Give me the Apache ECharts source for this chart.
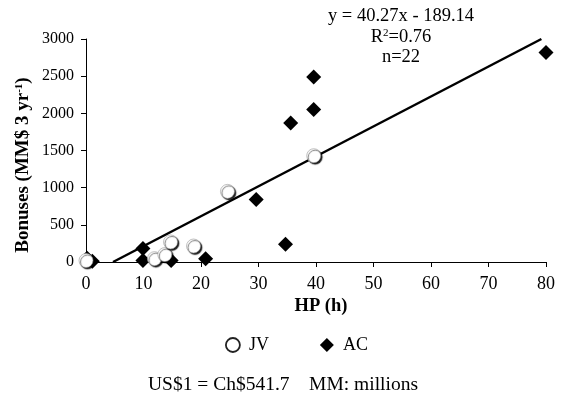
<!DOCTYPE html>
<html><head><meta charset="utf-8">
<script src="https://cdn.jsdelivr.net/npm/echarts@6/dist/echarts.min.js"></script>
<style>html,body{margin:0;padding:0;background:#fff}#c{width:564px;height:398px}</style>
</head><body><div id="c"></div>
<script>
var jvX = [0, 11.9, 13.7, 14.7, 18.7, 24.6, 39.6];
var jvY = [20, 45, 100, 270, 215, 950, 1430];
var acX = [0.2, 1.1, 9.9, 9.9, 14.8, 20.8, 29.6, 34.7, 35.6, 39.6, 39.6, 80];
var acY = [50, 10, 180, 20, 20, 45, 840, 240, 1870, 2490, 2050, 2820];
var trendX = [4.7, 79.2];
var trendY = [0, 3000];
var xTicks = [0, 10, 20, 30, 40, 50, 60, 70, 80];
var yTicks = [0, 500, 1000, 1500, 2000, 2500, 3000];

function zip(a, b) { return a.map(function (v, i) { return [v, b[i]]; }); }
var F = '"Liberation Serif", "Times New Roman", serif';
var chart = echarts.init(document.getElementById('c'), null, {renderer: 'canvas'});
chart.setOption({
  animation: false,
  backgroundColor: '#fff',
  textStyle: {fontFamily: F, color: '#000'},
  grid: {left: 86, right: 18, top: 39, bottom: 136},
  legend: {
    data: [
      {name: 'JV', icon: 'circle', itemStyle: {color: '#fff', borderColor: '#222', borderWidth: 1.8}},
      {name: 'AC', icon: 'diamond', itemStyle: {color: '#000', opacity: 1}}
    ],
    left: 220, top: 331, itemWidth: 14, itemHeight: 14, itemGap: 51,
    textStyle: {fontFamily: F, fontSize: 18, color: '#000', padding: [0, 0, 0, 4]}
  },
  xAxis: {
    type: 'value', min: xTicks[0], max: xTicks[xTicks.length - 1], interval: 10,
    axisLine: {show: true, lineStyle: {color: '#000', width: 1}},
    axisTick: {show: true, length: 5, lineStyle: {color: '#000'}},
    axisLabel: {fontFamily: F, fontSize: 18, color: '#000', margin: 13, formatter: function (v) { return String(v); }},
    splitLine: {show: false}
  },
  yAxis: {
    type: 'value', min: yTicks[0], max: yTicks[yTicks.length - 1], interval: 500,
    axisLine: {show: true, lineStyle: {color: '#000', width: 1}},
    axisTick: {show: true, length: 5, lineStyle: {color: '#000'}},
    axisLabel: {fontFamily: F, fontSize: 16, color: '#000', margin: 12, formatter: function (v) { return String(v); }},
    splitLine: {show: false}
  },
  series: [
    {
      name: 'Trend', type: 'line', data: zip(trendX, trendY), symbol: 'none',
      lineStyle: {color: '#000', width: 2.5}, z: 1, silent: true
    },
    {
      name: 'AC', type: 'scatter', data: zip(acX, acY), symbol: 'diamond', symbolSize: 15,
      itemStyle: {color: '#000', opacity: 1}, z: 2
    },
    {
      name: 'JV', type: 'scatter', data: zip(jvX, jvY), symbol: 'circle', symbolSize: 14,
      itemStyle: {color: '#fff', opacity: 1, borderColor: '#999', borderWidth: 0.6,
        shadowColor: 'rgba(0,0,0,0.9)', shadowBlur: 1, shadowOffsetX: 1.5, shadowOffsetY: 1.5},
      z: 3
    }
  ],
  graphic: [
    {type: 'text', x: 401, y: 16, style: {text: 'y = 40.27x - 189.14', font: '18.5px ' + F, fill: '#000', align: 'center', verticalAlign: 'middle', textAlign: 'center', textVerticalAlign: 'middle'}},
    {type: 'text', x: 401, y: 37, style: {text: '{r|R}{s|2}{r|=0.76}', fill: '#000', align: 'center', verticalAlign: 'middle', textAlign: 'center', textVerticalAlign: 'middle',
      rich: {r: {font: '18.5px ' + F, fill: '#000'}, s: {font: '11px ' + F, fill: '#000', verticalAlign: 'top', padding: [0, 0, 7, 0]}}}},
    {type: 'text', x: 401, y: 57, style: {text: 'n=22', font: '18.5px ' + F, fill: '#000', align: 'center', verticalAlign: 'middle', textAlign: 'center', textVerticalAlign: 'middle'}},
    {type: 'text', x: 321, y: 306, style: {text: 'HP (h)', font: 'bold 18.5px ' + F, fill: '#000', align: 'center', verticalAlign: 'middle', textAlign: 'center', textVerticalAlign: 'middle'}},
    {type: 'text', x: 23, y: 165, rotation: Math.PI / 2, style: {text: '{b|Bonuses (MM$ 3 yr}{s|-1}{b|)}', fill: '#000', align: 'center', verticalAlign: 'middle', textAlign: 'center', textVerticalAlign: 'middle',
      rich: {b: {font: 'bold 19px ' + F, fill: '#000'}, s: {font: 'bold 11px ' + F, fill: '#000', verticalAlign: 'top', padding: [0, 0, 8, 0]}}}},
    {type: 'text', x: 283, y: 385, style: {text: 'US$1 = Ch$541.7    MM: millions', font: '19.5px ' + F, fill: '#000', align: 'center', verticalAlign: 'middle', textAlign: 'center', textVerticalAlign: 'middle'}}
  ]
});
</script></body></html>
